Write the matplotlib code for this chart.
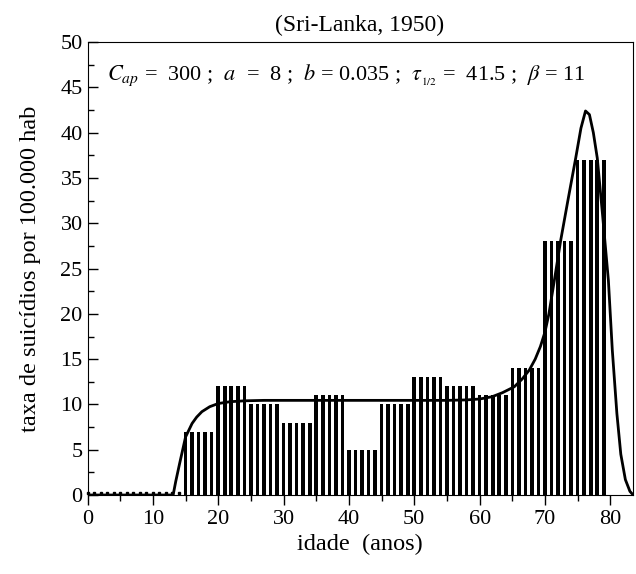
import numpy as np
import matplotlib
matplotlib.use("Agg")
import matplotlib.pyplot as plt

plt.rcParams['font.family'] = ['Liberation Serif', 'DejaVu Serif']
plt.rcParams['mathtext.fontset'] = 'stix'

# taxa por idade (grupos de 5 anos, uma barra por ano)
ages = np.arange(0, 80)
group_start = [15, 20, 25, 30, 35, 40, 45, 50, 55, 60, 65, 70, 75]
group_rate = [7, 12, 10, 8, 11, 5, 10, 13, 12, 11, 14, 28, 37]

# curva do modelo
curve_x = [0, 13.1, 13.5, 14.1, 15.0, 16.0, 16.7, 17.5, 18.7, 20, 21.8, 24, 27, 35, 45, 55,
           58, 60, 61.9, 63.5, 65.3, 66.5, 67.6, 68.5, 69.3, 70, 70.6, 71.5, 72.4, 73.5,
           74.7, 75.5, 76.2, 76.8, 77.4, 78.0, 78.8, 79.7, 80.3, 81.0, 81.6, 82.3, 83.0, 83.5]
curve_y = [0, 0, 1.5, 3.5, 6.4, 7.9, 8.6, 9.2, 9.75, 10.1, 10.3, 10.4, 10.45, 10.45, 10.45, 10.45,
           10.5, 10.6, 10.85, 11.3, 11.95, 12.8, 13.8, 15.0, 16.4, 18.0, 20.0, 24.0, 28.1, 32.5,
           37.2, 40.5, 42.4, 42.0, 40.0, 37.2, 31.0, 23.7, 16.0, 9.0, 4.5, 1.7, 0.4, 0]

rates = np.zeros(len(ages))
for s, r in zip(group_start, group_rate):
    rates[(ages >= s) & (ages < s + 5)] = r

fig = plt.figure(figsize=(6.36, 5.74), dpi=100)
ax = fig.add_axes([0.1376, 0.1376, 0.857, 0.789])

nz = rates > 0
ax.bar(ages[nz], rates[nz], width=0.55, color='black')
ax.plot(ages[~nz], rates[~nz] + 0.25, 's', color='black', ms=1.6, clip_on=False, zorder=3)
ax.plot(curve_x, curve_y, color='black', lw=2)

ax.set_xlim(0, 83.4)
ax.set_ylim(0, 50)
ax.set_xticks(np.arange(0, 81, 10))
ax.set_xticks(np.arange(5, 81, 10), minor=True)
ax.set_yticks(np.arange(0, 51, 5))
ax.set_yticks(np.arange(2.5, 50, 5), minor=True)
ax.tick_params(axis='x', which='both', direction='out', labelsize=16)
ax.tick_params(axis='y', which='both', direction='in', labelsize=16)
ax.tick_params(which='major', length=7, width=1)
ax.tick_params(which='minor', length=4, width=1)

ax.set_xlabel('idade  (anos)', fontsize=17.5, labelpad=4)
ax.set_ylabel('taxa de suicídios por 100.000 hab', fontsize=17.5, labelpad=14)
ax.set_title('(Sri-Lanka, 1950)', fontsize=17, pad=8)

ax.text(3, 46.3,
        r'$C_{ap}$ =  300 ;  $a$  =  8 ;  $b$ = 0.035 ;  $\tau_{_{1/2}}$ =  41.5 ;  $\beta$ = 11',
        fontsize=16, va='center', ha='left')

fig.savefig('out.png', dpi=100)
